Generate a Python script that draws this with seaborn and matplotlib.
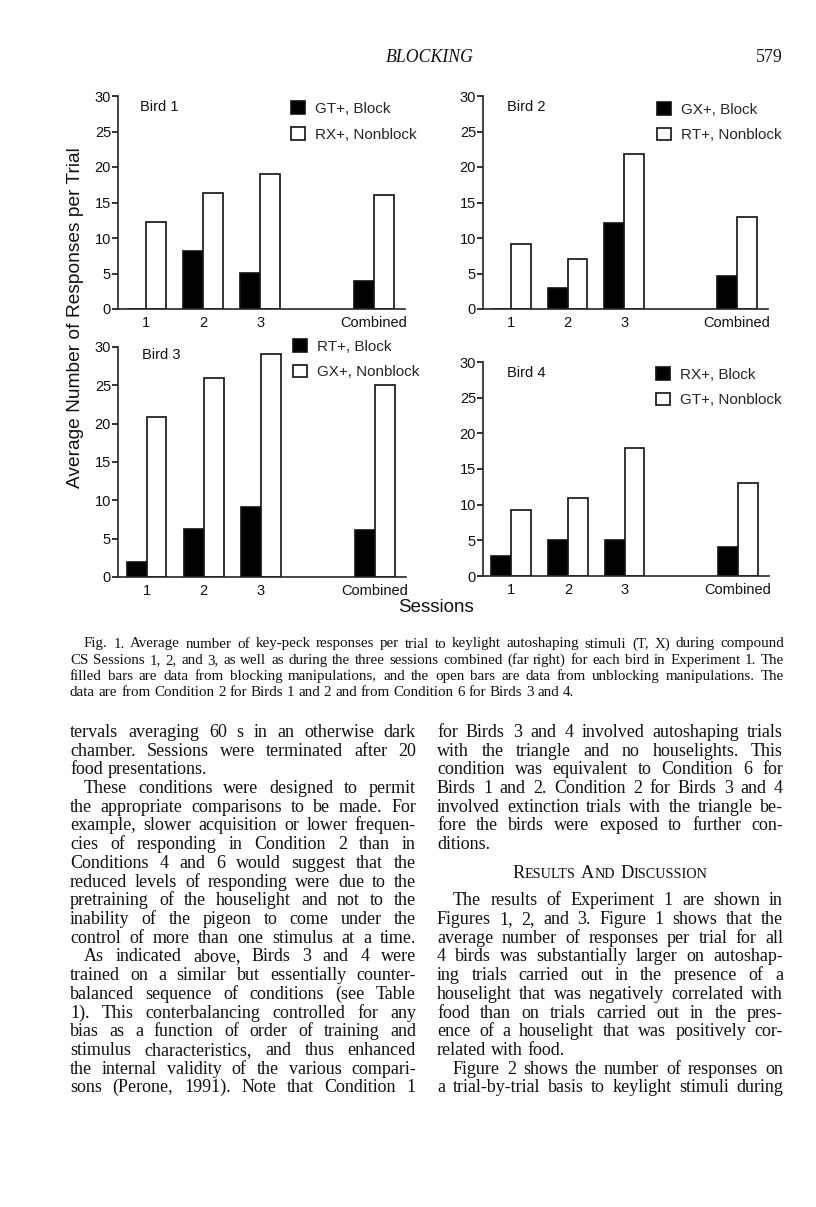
import matplotlib
matplotlib.use("Agg")
import matplotlib.pyplot as plt
import matplotlib.patches as mpatches
from matplotlib.transforms import IdentityTransform
import seaborn as sns
import pandas as pd

W, H = 816, 1207
INK = "#111111"

# --- chart data -------------------------------------------------------------
sessions = ["1", "2", "3", "Combined"]
session_pos = [1, 2, 3, 5]
conditions = ["Block", "Nonblock"]

bird1_block = [0, 8.2, 5.1, 4.0]
bird1_nonblock = [12.3, 16.4, 19.0, 16.0]
bird2_block = [0, 3.0, 12.1, 4.7]
bird2_nonblock = [9.2, 7.0, 21.9, 13.0]
bird3_block = [1.9, 6.2, 9.1, 6.1]
bird3_nonblock = [20.9, 26.0, 29.1, 25.1]
bird4_block = [2.8, 5.0, 5.0, 4.1]
bird4_nonblock = [9.2, 10.9, 18.0, 13.0]

bird_names = ["Bird 1", "Bird 2", "Bird 3", "Bird 4"]
bird_legends = [
    ["GT+, Block", "RX+, Nonblock"],
    ["GX+, Block", "RT+, Nonblock"],
    ["RT+, Block", "GX+, Nonblock"],
    ["RX+, Block", "GT+, Nonblock"],
]

# --- page text --------------------------------------------------------------
caption_lines = [
    "Fig. 1.  Average number of key-peck responses per trial to keylight autoshaping stimuli (T, X) during compound",
    "CS Sessions 1, 2, and 3, as well as during the three sessions combined (far right) for each bird in Experiment 1. The",
    "filled bars are data from blocking manipulations, and the open bars are data from unblocking manipulations. The",
    "data are from Condition 2 for Birds 1 and 2 and from Condition 6 for Birds 3 and 4.",
]

left_col = [
    ("tervals averaging 60 s in an otherwise dark", ""),
    ("chamber. Sessions were terminated after 20", ""),
    ("food presentations.", "end"),
    ("These conditions were designed to permit", "indent"),
    ("the appropriate comparisons to be made. For", ""),
    ("example, slower acquisition or lower frequen-", ""),
    ("cies of responding in Condition 2 than in", ""),
    ("Conditions 4 and 6 would suggest that the", ""),
    ("reduced levels of responding were due to the", ""),
    ("pretraining of the houselight and not to the", ""),
    ("inability of the pigeon to come under the", ""),
    ("control of more than one stimulus at a time.", ""),
    ("As indicated above, Birds 3 and 4 were", "indent"),
    ("trained on a similar but essentially counter-", ""),
    ("balanced sequence of conditions (see Table", ""),
    ("1). This conterbalancing controlled for any", ""),
    ("bias as a function of order of training and", ""),
    ("stimulus characteristics, and thus enhanced", ""),
    ("the internal validity of the various compari-", ""),
    ("sons (Perone, 1991). Note that Condition 1", ""),
]

right_col_top = [
    ("for Birds 3 and 4 involved autoshaping trials", ""),
    ("with the triangle and no houselights. This", ""),
    ("condition was equivalent to Condition 6 for", ""),
    ("Birds 1 and 2. Condition 2 for Birds 3 and 4", ""),
    ("involved extinction trials with the triangle be-", ""),
    ("fore the birds were exposed to further con-", ""),
    ("ditions.", "end"),
]
right_col_bottom = [
    ("The results of Experiment 1 are shown in", "indent"),
    ("Figures 1, 2, and 3. Figure 1 shows that the", ""),
    ("average number of responses per trial for all", ""),
    ("4 birds was substantially larger on autoshap-", ""),
    ("ing trials carried out in the presence of a", ""),
    ("houselight that was negatively correlated with", ""),
    ("food than on trials carried out in the pres-", ""),
    ("ence of a houselight that was positively cor-", ""),
    ("related with food.", "end"),
    ("Figure 2 shows the number of responses on", "indent"),
    ("a trial-by-trial basis to keylight stimuli during", ""),
]
heading = "Results and Discussion"

sns.set_theme(style="ticks")
plt.rcParams["font.family"] = ["Liberation Sans", "DejaVu Sans"]
plt.rcParams["axes.linewidth"] = 1.2

fig = plt.figure(figsize=(W / 100, H / 100), dpi=100)
fig.patch.set_facecolor("white")
renderer = fig.canvas.get_renderer()
ID = IdentityTransform()


def box(left, top, right, bottom):
    return [left / W, 1 - bottom / H, (right - left) / W, (bottom - top) / H]


# panel boxes in page pixels: left, top, right, bottom
panels = [box(118, 96, 405, 309), box(483, 96, 768, 309),
          box(118, 347, 406, 577), box(483, 362, 769, 576)]
label_xy = [(0.075, 0.95), (0.085, 0.95), (0.085, 0.965), (0.085, 0.95)]
legend_xy = [(0.603, 0.975), (0.612, 0.972), (0.608, 1.035), (0.605, 0.977)]

block_data = [bird1_block, bird2_block, bird3_block, bird4_block]
nonblock_data = [bird1_nonblock, bird2_nonblock, bird3_nonblock, bird4_nonblock]

for i in range(4):
    ax = fig.add_axes(panels[i])
    df = pd.DataFrame({
        "pos": session_pos * 2,
        "cond": ["Block"] * 4 + ["Nonblock"] * 4,
        "value": block_data[i] + nonblock_data[i],
    })
    sns.barplot(data=df, x="pos", y="value", hue="cond", hue_order=conditions,
                palette={"Block": "black", "Nonblock": "white"}, native_scale=True,
                width=0.7, edgecolor=INK, linewidth=1.2, saturation=1,
                errorbar=None, legend=False, ax=ax)
    ax.set_xlim(0.5, 5.55)
    ax.set_ylim(0, 30)
    ax.set_yticks(range(0, 31, 5))
    ax.set_xticks(session_pos, sessions)
    ax.set_xlabel("")
    ax.set_ylabel("")
    ax.set_facecolor("white")
    sns.despine(ax=ax)
    ax.tick_params(axis="x", length=0, pad=5, labelsize=10.5, colors=INK)
    ax.tick_params(axis="y", length=4, width=1.2, pad=1, labelsize=10.5,
                   direction="out", colors=INK)
    ax.text(label_xy[i][0], label_xy[i][1], bird_names[i], transform=ax.transAxes,
            fontsize=10.5, va="center", ha="left", color=INK)
    handles = [mpatches.Patch(facecolor=c, edgecolor=INK, linewidth=1.2)
               for c in ("black", "white")]
    ax.legend(handles, bird_legends[i], loc="upper left", bbox_to_anchor=legend_xy[i],
              frameon=False, borderpad=0, borderaxespad=0, handlelength=0.9,
              handleheight=0.9, handletextpad=0.65, labelspacing=0.72, fontsize=11)

fig.text(76 / W, 1 - 318 / H, "Average Number of Responses per Trial", rotation=90,
         ha="center", va="center", fontsize=13.8, color=INK)
fig.text(436 / W, 1 - 608 / H, "Sessions", ha="center", va="center",
         fontsize=13.5, color=INK)


# --- justified serif text -----------------------------------------------------
SERIF = "Liberation Serif"


def word_row(words, x0, x1, y, size, justify, style="normal"):
    arts = [fig.text(0, H - y, w, transform=ID, fontsize=size, family=SERIF,
                     style=style, va="baseline", color=INK) for w in words]
    widths = [a.get_window_extent(renderer).width for a in arts]
    gap = size * 100 / 72 * 0.25
    if justify and len(words) > 1:
        gap = (x1 - x0 - sum(widths)) / (len(words) - 1)
    x = x0
    for a, w in zip(arts, widths):
        a.set_x(x)
        x += w + gap


def column(lines, x0, x1, y0, step, size, indent):
    for k, (txt, flag) in enumerate(lines):
        start = x0 + (indent if flag == "indent" else 0)
        word_row(txt.split(), start, x1, y0 + k * step, size, flag != "end")


BODY = 13.0

# running head
fig.text(430, H - 62, "BLOCKING", transform=ID, fontsize=12.8, family=SERIF,
         style="italic", ha="center", va="baseline", color=INK)
fig.text(783, H - 62, "579", transform=ID, fontsize=12.8, family=SERIF,
         ha="right", va="baseline", color=INK)

# caption
for k, txt in enumerate(caption_lines):
    start = 84 if k == 0 else 70
    word_row(txt.split(), start, 784, 647.5 + k * 16.2, 10.8, k < len(caption_lines) - 1)

STEP = 18.7
BASE = 737
column(left_col, 70, 416, BASE, STEP, BODY, 14)
column(right_col_top, 437, 783, BASE, STEP, BODY, 14)
column(right_col_bottom, 437, 783, BASE + 9 * STEP, STEP, BODY, 16)

# small-caps heading
pieces = []
for wi, word in enumerate(heading.split()):
    if wi:
        pieces.append((" ", 10.2))
    pieces.append((word[0].upper(), 13.2))
    if len(word) > 1:
        pieces.append((word[1:].upper(), 10.2))
arts = [fig.text(0, H - (BASE + 7.55 * STEP), p, transform=ID, fontsize=s, family=SERIF,
                 va="baseline", color=INK) for p, s in pieces]
widths = [a.get_window_extent(renderer).width if p != " " else 5.5
          for a, (p, s) in zip(arts, pieces)]
x = 610 - sum(widths) / 2
for a, w in zip(arts, widths):
    a.set_x(x)
    x += w

fig.savefig("out.png", dpi=100, facecolor="white")
